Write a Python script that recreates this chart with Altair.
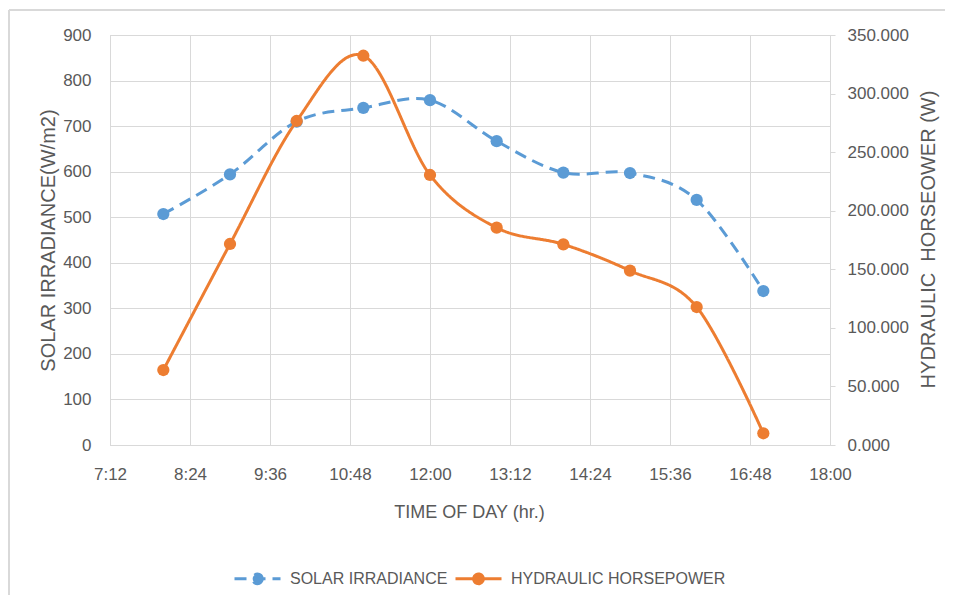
import altair as alt
import pandas as pd

# ---- data ----
time_labels = ["8:00", "9:00", "10:00", "11:00", "12:00", "13:00", "14:00", "15:00", "16:00", "17:00"]
solar_irradiance = [507, 594, 710, 740, 757, 667, 598, 597, 538, 338]
hydraulic_hp = [64.0, 171.6, 276.6, 332.3, 230.5, 185.5, 171.3, 148.8, 117.8, 10.0]
x_tick_labels = ["7:12", "8:24", "9:36", "10:48", "12:00", "13:12", "14:24", "15:36", "16:48", "18:00"]
left_ticks = [0, 100, 200, 300, 400, 500, 600, 700, 800, 900]
right_ticks = [0, 50, 100, 150, 200, 250, 300, 350]
series_names = ["SOLAR IRRADIANCE", "HYDRAULIC HORSEPOWER"]
series_colors = ["#5B9BD5", "#ED7D31"]


def to_minutes(s):
    h, m = s.split(":")
    return int(h) * 60 + int(m)


minutes = [to_minutes(t) for t in time_labels]
tick_minutes = [to_minutes(t) for t in x_tick_labels]

df = pd.DataFrame({
    "minutes": minutes + minutes,
    "value": solar_irradiance + hydraulic_hp,
    "series": [series_names[0]] * len(minutes) + [series_names[1]] * len(minutes),
})

FONT = "Liberation Sans"
TXT = "#595959"
GRID = "#d9d9d9"

legend = alt.Legend(
    orient="none", legendX=123, legendY=519, direction="horizontal", title=None,
    symbolType="M-1,0L1,0M0.21,0A0.21,0.21,0,1,1,-0.21,0A0.21,0.21,0,1,1,0.21,0Z",
    symbolSize=2116, symbolStrokeWidth=3, symbolOpacity=1,
    labelFont=FONT, labelFontSize=16, labelColor=TXT, labelOffset=8,
    columnPadding=1, labelLimit=400,
)

stroke_enc = alt.Stroke("series:N", scale=alt.Scale(domain=series_names, range=series_colors), legend=legend)
fill_enc = alt.Fill("series:N", scale=alt.Scale(domain=series_names, range=series_colors), legend=legend)
dash_enc = alt.StrokeDash("series:N", scale=alt.Scale(domain=series_names, range=[[12, 7], [1, 0]]), legend=legend)

x_enc = alt.X(
    "minutes:Q",
    scale=alt.Scale(domain=[432, 1080], nice=False, zero=False),
    axis=alt.Axis(
        values=tick_minutes,
        labelExpr="floor(datum.value/60) + ':' + (datum.value % 60 < 10 ? '0' : '') + (datum.value % 60)",
        title="TIME OF DAY (hr.)", titleX=359, titleY=67, titleAlign="center", titleBaseline="middle",
        grid=True, gridColor=GRID, ticks=False, domainColor=GRID, domainWidth=1,
        labelFont=FONT, labelFontSize=17, labelColor=TXT, labelPadding=21, labelFlush=False,
        titleFont=FONT, titleFontSize=18, titleFontWeight="normal", titleColor=TXT,
    ),
)

y_left = alt.Y(
    "value:Q",
    scale=alt.Scale(domain=[0, 900], nice=False),
    axis=alt.Axis(
        values=left_ticks, title="SOLAR IRRADIANCE(W/m2)",
        titleX=-62, titleY=205, titleAngle=270, titleAlign="center", titleBaseline="middle",
        grid=True, gridColor=GRID, ticks=False, domainColor=GRID, labelFlush=False,
        labelFont=FONT, labelFontSize=17, labelColor=TXT, labelPadding=19,
        titleFont=FONT, titleFontSize=20, titleFontWeight="normal", titleColor=TXT,
    ),
)

y_right = alt.Y(
    "value:Q",
    scale=alt.Scale(domain=[0, 350], nice=False),
    axis=alt.Axis(
        orient="right", values=right_ticks, format=".3f", labelFlush=False,
        title="HYDRAULIC\u00a0 HORSEOWER (W)",
        titleX=98, titleY=204, titleAngle=270, titleAlign="center", titleBaseline="middle",
        grid=False, ticks=True, tickSize=5, tickColor=GRID, domainColor=GRID,
        labelFont=FONT, labelFontSize=17, labelColor=TXT, labelPadding=12,
        titleFont=FONT, titleFontSize=20, titleFontWeight="normal", titleColor=TXT,
    ),
)

base = alt.Chart(df)

solar = base.transform_filter(alt.datum.series == series_names[0])
hp = base.transform_filter(alt.datum.series == series_names[1])

line_mark = dict(interpolate="cardinal", tension=0, strokeWidth=3)
pt_mark = dict(filled=True, size=150, opacity=1, shape="circle")

left_layer = alt.layer(
    solar.mark_line(**line_mark).encode(x=x_enc, y=y_left, stroke=stroke_enc, strokeDash=dash_enc),
    solar.mark_point(**pt_mark).encode(x=x_enc, y=y_left, fill=fill_enc),
)
right_layer = alt.layer(
    hp.mark_line(**line_mark).encode(x=x_enc, y=y_right, stroke=stroke_enc, strokeDash=dash_enc),
    hp.mark_point(**pt_mark).encode(x=x_enc, y=y_right, fill=fill_enc),
)

frame_df = pd.DataFrame({"k": [0]})
frame = alt.layer(
    alt.Chart(frame_df).mark_rule(color=GRID, strokeWidth=2, clip=False).encode(
        x=alt.value(-101), x2=alt.value(840), y=alt.value(-25)),
    alt.Chart(frame_df).mark_rule(color=GRID, strokeWidth=2, clip=False).encode(
        x=alt.value(-101), y=alt.value(-25), y2=alt.value(600)),
)

chart = alt.layer(frame, left_layer, right_layer).resolve_scale(y="independent").properties(
    width=720, height=410,
    autosize=alt.AutoSizeParams(type="none"),
    padding={"left": 102, "top": 27, "right": 115, "bottom": 150},
).configure_view(stroke=GRID).configure(background="white")

chart.save("out.html", embed_options={"renderer": "svg", "actions": False})
